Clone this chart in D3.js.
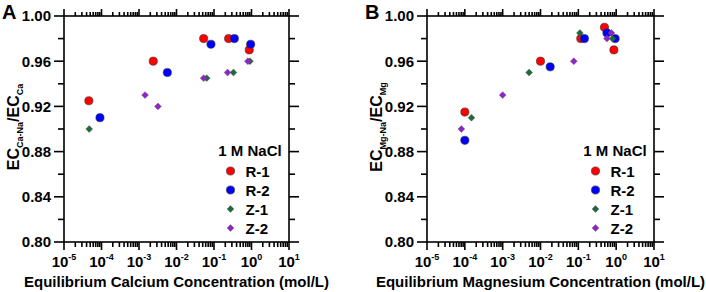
<!DOCTYPE html>
<html><head><meta charset="utf-8">
<script src="https://cdn.jsdelivr.net/npm/d3@7"></script>
<style>body{margin:0;background:#fff}svg{display:block;font-family:"Liberation Sans",Arial,sans-serif;font-weight:bold}</style>
</head><body><svg id="c" width="706" height="292"></svg>
<script>
// ---- data ----
const seriesNames = ["R-1","R-2","Z-1","Z-2"];
const seriesColors = ["#ff0000","#0000ff","#1d6b38","#9124c9"];
const seriesShapes = ["circle","circle","diamond","diamond"];
// Panel A: calcium
const caR1x = [4.6e-5, 2.4e-3, 0.053, 0.245, 0.87];
const caR1y = [0.925, 0.96, 0.98, 0.98, 0.97];
const caR2x = [9.1e-5, 5.7e-3, 0.083, 0.35, 0.95];
const caR2y = [0.91, 0.95, 0.975, 0.98, 0.975];
const caZ1x = [4.7e-5, 0.064, 0.33, 0.91];
const caZ1y = [0.90, 0.945, 0.95, 0.96];
const caZ2x = [1.45e-3, 3.2e-3, 0.053, 0.23, 0.8];
const caZ2y = [0.93, 0.92, 0.945, 0.95, 0.96];
// Panel B: magnesium
const mgR1x = [1.0e-4, 0.01, 0.116, 0.49, 0.87];
const mgR1y = [0.915, 0.96, 0.98, 0.99, 0.97];
const mgR2x = [1.0e-4, 0.018, 0.145, 0.57, 0.94];
const mgR2y = [0.89, 0.955, 0.98, 0.985, 0.98];
const mgZ1x = [1.5e-4, 5.0e-3, 0.11, 0.8];
const mgZ1y = [0.91, 0.95, 0.985, 0.98];
const mgZ2x = [8.1e-5, 1.0e-3, 0.076, 0.57, 0.75];
const mgZ2y = [0.90, 0.93, 0.96, 0.98, 0.985];
const xDomain = [1e-5, 10];
const xExponents = [-5,-4,-3,-2,-1,0,1];
const yDomain = [0.80, 1.00];
const yMajor = [0.80,0.84,0.88,0.92,0.96,1.00];
const yMinor = [0.82,0.86,0.90,0.94,0.98];
const legendTitle = "1 M NaCl";

const panels = [
  {letter:"A", x0:64, x1:289, sub1:"Ca-Na", sub2:"Ca",
   xTitle:"Equilibrium Calcium Concentration (mol/L)",
   data:[[caR1x,caR1y],[caR2x,caR2y],[caZ1x,caZ1y],[caZ2x,caZ2y]]},
  {letter:"B", x0:427, x1:654, sub1:"Mg-Na", sub2:"Mg",
   xTitle:"Equilibrium Magnesium Concentration (mol/L)",
   data:[[mgR1x,mgR1y],[mgR2x,mgR2y],[mgZ1x,mgZ1y],[mgZ2x,mgZ2y]]}
];
const plotTop = 16, plotBottom = 242;
const svg = d3.select("#c");

panels.forEach(p => {
  const x = d3.scaleLog().domain(xDomain).range([p.x0, p.x1]);
  const y = d3.scaleLinear().domain(yDomain).range([plotBottom, plotTop]);
  const g = svg.append("g");
  const majorX = xExponents.map(e => Math.pow(10, e));
  const minorX = [];
  for (let e = -5; e < 1; e++) for (let m = 2; m <= 9; m++) minorX.push(m * Math.pow(10, e));

  const tickG = g.append("g").attr("stroke","#000").attr("stroke-width",1.6);
  function vTicks(vals, y0, len){
    tickG.selectAll(null).data(vals).enter().append("line")
      .attr("x1", d => x(d)).attr("x2", d => x(d)).attr("y1", y0).attr("y2", y0 + len);
  }
  function hTicks(vals, x0, len){
    tickG.selectAll(null).data(vals).enter().append("line")
      .attr("y1", d => y(d)).attr("y2", d => y(d)).attr("x1", x0).attr("x2", x0 + len);
  }
  vTicks(majorX, plotBottom, 8);
  vTicks(minorX, plotBottom, 5);
  vTicks(majorX, plotTop, -7);
  vTicks(minorX, plotTop, -4);
  hTicks(yMajor, p.x0, -10);
  hTicks(yMinor, p.x0, -6);
  hTicks(yMajor, p.x1, 10);
  hTicks(yMinor, p.x1, 6);
  // frame
  g.append("rect").attr("x",p.x0).attr("y",plotTop).attr("width",p.x1-p.x0).attr("height",plotBottom-plotTop)
    .attr("fill","none").attr("stroke","#000").attr("stroke-width",1.6);
  // y tick labels
  g.selectAll(null).data(yMajor).enter().append("text")
    .attr("x", p.x0 - 13).attr("y", d => y(d)).attr("dy","0.36em")
    .attr("text-anchor","end").attr("font-size",15).text(d3.format(".2f"));
  // x tick labels
  xExponents.forEach(e => {
    const t = g.append("text").attr("x", x(Math.pow(10,e))).attr("y", 267)
      .attr("text-anchor","middle").attr("font-size",15);
    t.append("tspan").text("10");
    t.append("tspan").attr("dy",-7).attr("font-size",9).text(String(e));
  });
  // x title
  g.append("text").attr("x",(p.x0+p.x1)/2).attr("y",287).attr("text-anchor","middle")
    .attr("font-size",15).text(p.xTitle);
  // y title
  const yt = g.append("text").attr("transform",`translate(${p.x0-45},${(plotTop+plotBottom)/2 - 2}) rotate(-90)`)
    .attr("text-anchor","middle").attr("font-size",16);
  yt.append("tspan").text("EC");
  yt.append("tspan").attr("dy",4).attr("font-size",9).text(p.sub1);
  yt.append("tspan").attr("dy",-4).text("/EC");
  yt.append("tspan").attr("dy",4).attr("font-size",9).text(p.sub2);
  // panel letter
  g.append("text").attr("x",p.x0-62).attr("y",19).attr("font-size",20).text(p.letter);
  // data
  const sym = d3.symbol();
  p.data.forEach((s, i) => {
    const pts = s[0].map((v, k) => [v, s[1][k]]);
    if (seriesShapes[i] === "circle") {
      g.selectAll(null).data(pts).enter().append("circle")
        .attr("cx", d => x(d[0])).attr("cy", d => y(d[1])).attr("r", 4.1)
        .attr("fill", seriesColors[i]).attr("stroke","#333").attr("stroke-width",0.6);
    } else {
      g.selectAll(null).data(pts).enter().append("path")
        .attr("transform", d => `translate(${x(d[0])},${y(d[1])})`)
        .attr("d", sym.type(d3.symbolDiamond2).size(30)())
        .attr("fill", seriesColors[i]).attr("stroke","#555").attr("stroke-width",0.4);
    }
  });
  // legend
  g.append("text").attr("x", p.x1 - 39).attr("y", 156).attr("text-anchor","middle")
    .attr("font-size",15).text(legendTitle);
  seriesNames.forEach((n, i) => {
    const ly = 171 + i * 19;
    if (seriesShapes[i] === "circle") {
      g.append("circle").attr("cx", p.x1 - 58.5).attr("cy", ly).attr("r", 4.1)
        .attr("fill", seriesColors[i]).attr("stroke","#333").attr("stroke-width",0.6);
    } else {
      g.append("path").attr("transform",`translate(${p.x1-58.5},${ly})`)
        .attr("d", sym.type(d3.symbolDiamond2).size(30)())
        .attr("fill", seriesColors[i]).attr("stroke","#555").attr("stroke-width",0.4);
    }
    g.append("text").attr("x", p.x1 - 43.5).attr("y", ly + 5.5).attr("font-size",15).text(n);
  });
});
</script></body></html>
